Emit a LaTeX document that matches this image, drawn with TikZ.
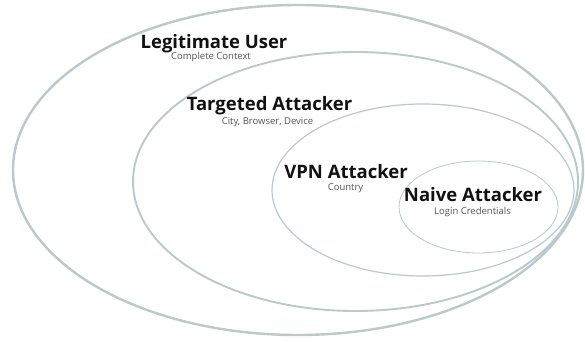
\documentclass[tikz,border=0pt]{standalone}
\usepackage{fontspec}
\setmainfont{Open Sans}
\usetikzlibrary{shapes.geometric}
\definecolor{ring}{HTML}{B9C9CC}
\definecolor{titlecol}{HTML}{111111}
\definecolor{subcol}{HTML}{555555}
\tikzset{
  ringbox/.style={draw=ring, ellipse, inner sep=0pt, fill=none},
  titletext/.style={font=\bfseries\fontsize{18.5}{20}\selectfont, text=titlecol, inner sep=0pt, anchor=center},
  subtext/.style={font=\fontsize{9.5}{11}\selectfont, text=subcol, inner sep=0pt, anchor=center}
}
\begin{document}
\begin{tikzpicture}[x=1pt,y=1pt]
\useasboundingbox (0,0) rectangle (585,341);
\fill[white] (0,0) rectangle (585,341);
% rings (centres in pixel coords, y flipped)
\node[ringbox, line width=2.4pt, minimum width=570pt, minimum height=330pt] (legit) at (298,171) {};
\node[ringbox, line width=1.9pt, minimum width=445pt, minimum height=259pt] (target) at (355.5,159.5) {};
\node[ringbox, line width=1.2pt, minimum width=302pt, minimum height=172pt] (vpn) at (423,151) {};
\node[ringbox, line width=0.8pt, minimum width=159pt, minimum height=92pt] (naive) at (478.5,134) {};
% labels
\node[titletext] (legitT) at (214,297) {Legitimate User};
\node[subtext] (legitS) at (211,284) {Complete Context};
\node[titletext] (targetT) at (269.5,235.5) {Targeted Attacker};
\node[subtext] (targetS) at (267.5,219) {City, Browser, Device};
\node[titletext] (vpnT) at (346,169) {VPN Attacker};
\node[subtext] (vpnS) at (345.5,153) {Country};
\node[titletext] (naiveT) at (473,146) {Naive Attacker};
\node[subtext] (naiveS) at (472.5,129) {Login Credentials};
\end{tikzpicture}
\end{document}
